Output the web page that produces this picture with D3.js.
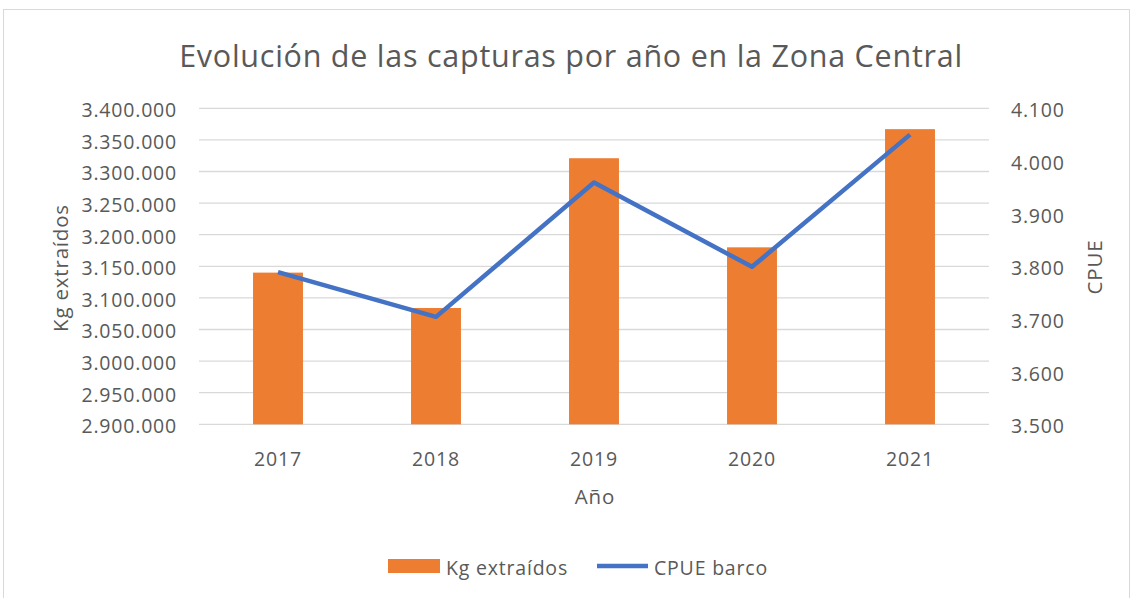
<!DOCTYPE html>
<html lang="es">
<head>
<meta charset="UTF-8">
<title>Evolución de las capturas por año en la Zona Central</title>
<script src="https://cdnjs.cloudflare.com/ajax/libs/d3/7.8.5/d3.min.js"></script>
<style>
    body { margin: 0; background: #fff; }
    svg text { font-family: "Open Sans", "Noto Sans", sans-serif; fill: #595959; }
    .grid line { stroke: #d9d9d9; stroke-width: 1.3px; }
</style>
</head>
<body>
<div id="chart"></div>
<script>
    // data
    const years = ["2017", "2018", "2019", "2020", "2021"];
    const kgExtraidos = [3140000, 3084000, 3321000, 3180000, 3367000];
    const cpueBarco = [3789, 3704, 3959, 3799, 4050];
    const leftTicks = [2900000, 2950000, 3000000, 3050000, 3100000, 3150000, 3200000, 3250000, 3300000, 3350000, 3400000];
    const rightTicks = [3500, 3600, 3700, 3800, 3900, 4000, 4100];

    const W = 1134, H = 598;
    const plot = { left: 199, right: 989, top: 108.3, bottom: 424.3 };

    const svg = d3.select("#chart").append("svg")
        .attr("width", W).attr("height", H);

    // chart area border
    svg.append("rect")
        .attr("x", 3.5).attr("y", 9.5)
        .attr("width", 1126).attr("height", 600)
        .attr("fill", "#fff").attr("stroke", "#d9d9d9");

    const x = d3.scaleBand().domain(years)
        .range([plot.left, plot.right]).paddingInner(0.684).paddingOuter(0.342);
    const yL = d3.scaleLinear().domain([2900000, 3400000]).range([plot.bottom, plot.top]);
    const yR = d3.scaleLinear().domain([3500, 4100]).range([plot.bottom, plot.top]);

    const fmt = d3.formatLocale({ decimal: ",", thousands: ".", grouping: [3], currency: ["", "€"] }).format(",d");

    // gridlines
    svg.append("g").attr("class", "grid")
        .selectAll("line").data(leftTicks).join("line")
        .attr("x1", plot.left).attr("x2", plot.right)
        .attr("y1", d => yL(d)).attr("y2", d => yL(d));

    // bars
    svg.append("g").selectAll("rect").data(years).join("rect")
        .attr("x", d => x(d))
        .attr("width", x.bandwidth())
        .attr("y", (d, i) => yL(kgExtraidos[i]))
        .attr("height", (d, i) => plot.bottom - yL(kgExtraidos[i]))
        .attr("fill", "#ed7d31");

    // line
    const line = d3.line()
        .x((d, i) => x(years[i]) + x.bandwidth() / 2)
        .y(d => yR(d));
    svg.append("path").datum(cpueBarco)
        .attr("d", line)
        .attr("fill", "none")
        .attr("stroke", "#4472c4")
        .attr("stroke-width", 4.5)
        .attr("stroke-linejoin", "round");

    // left axis
    const axL = svg.append("g")
        .attr("transform", `translate(${plot.left},0)`)
        .call(d3.axisLeft(yL).tickValues(leftTicks).tickFormat(fmt).tickSize(0).tickPadding(22));
    axL.select(".domain").remove();

    // right axis
    const axR = svg.append("g")
        .attr("transform", `translate(${plot.right},0)`)
        .call(d3.axisRight(yR).tickValues(rightTicks).tickFormat(fmt).tickSize(0).tickPadding(22));
    axR.select(".domain").remove();

    svg.selectAll(".tick text").attr("dy", "0.43em");

    // bottom axis
    const axB = svg.append("g")
        .attr("transform", `translate(0,${plot.bottom})`)
        .call(d3.axisBottom(x).tickSize(0).tickPadding(28));
    axB.select(".domain").remove();

    svg.selectAll(".tick text")
        .style("font-size", "19.5px").style("letter-spacing", "0.8px").style("fill", "#595959");

    // titles
    svg.append("text")
        .attr("x", 571).attr("y", 67)
        .attr("text-anchor", "middle")
        .style("font-size", "30.5px").style("letter-spacing", "0.75px")
        .text("Evolución de las capturas por año en la Zona Central");

    svg.append("text")
        .attr("x", 595).attr("y", 504)
        .attr("text-anchor", "middle")
        .style("font-size", "20.5px").style("letter-spacing", "0.8px")
        .text("Año");

    svg.append("text")
        .attr("transform", "translate(68,268) rotate(-90)")
        .attr("text-anchor", "middle")
        .style("font-size", "20.5px").style("letter-spacing", "0.8px")
        .text("Kg extraídos");

    svg.append("text")
        .attr("transform", "translate(1102,267) rotate(-90)")
        .attr("text-anchor", "middle")
        .style("font-size", "20.5px").style("letter-spacing", "0.8px")
        .text("CPUE");

    // legend
    const leg = svg.append("g");
    leg.append("rect")
        .attr("x", 388).attr("y", 559).attr("width", 52).attr("height", 14)
        .attr("fill", "#ed7d31");
    leg.append("text")
        .attr("x", 446).attr("y", 575)
        .style("font-size", "19.5px").style("letter-spacing", "0.8px")
        .text("Kg extraídos");
    leg.append("line")
        .attr("x1", 597).attr("x2", 648).attr("y1", 566).attr("y2", 566)
        .attr("stroke", "#4472c4").attr("stroke-width", 4.5);
    leg.append("text")
        .attr("x", 654).attr("y", 575)
        .style("font-size", "19.5px").style("letter-spacing", "0.8px")
        .text("CPUE barco");
</script>
</body>
</html>
